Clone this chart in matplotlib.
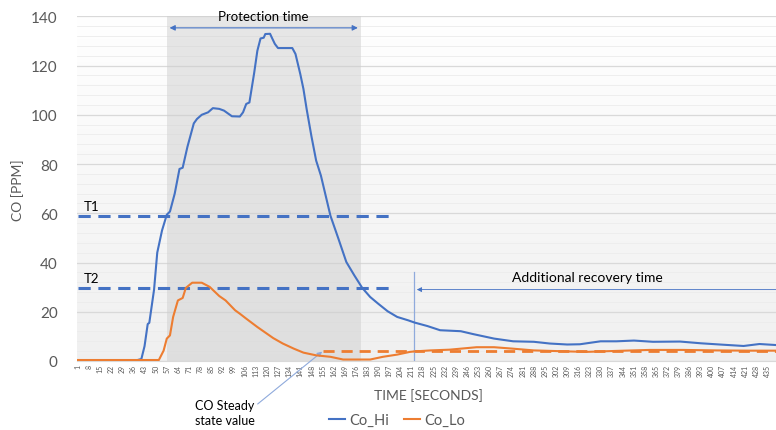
import numpy as np
import matplotlib.pyplot as plt

# CO readings (seconds, ppm)
hi_t = [1, 38, 41, 43, 45, 46, 49, 51, 54, 57, 59, 62, 65, 67, 70, 74, 76, 79, 83, 86,
        90, 93, 98, 103, 105, 107, 109, 112, 114, 116, 118, 119, 122, 123, 125, 127, 136, 138, 141, 143,
        145, 148, 151, 154, 160, 165, 170, 175, 180, 185, 190, 196, 202, 209, 213, 221, 229, 242, 250, 263,
        275, 288, 298, 309, 317, 330, 340, 351, 363, 380, 393, 405, 420, 430, 440]
hi_v = [0.3, 0.3, 0.8, 6, 15, 15.5, 29, 44, 53, 59.4, 60.7, 68, 78, 78.5, 87, 96.5, 98.3, 100, 101, 102.7,
        102.4, 101.7, 99.4, 99.3, 101, 104.4, 105, 117, 126, 131, 131.3, 132.8, 132.9, 131.5, 128.8, 127.1, 127.1, 124.7, 116.6, 110.5,
        102.4, 91.4, 81.4, 75.3, 59, 49.7, 40.2, 34.8, 29.7, 26, 23.3, 20.2, 17.9, 16.5, 15.6, 14.2, 12.5, 12.1, 10.9, 9.1,
        8, 7.8, 7.1, 6.7, 6.8, 8, 8, 8.3, 7.8, 7.9, 7.2, 6.7, 6.1, 6.9, 6.5]

lo_t = [1, 52, 55, 57, 59, 61, 64, 67, 69, 73, 79, 84, 90, 94, 97, 100, 103, 107, 114, 118,
        124, 130, 137, 143, 151, 160, 168, 185, 193, 202, 210, 213, 223, 235, 252, 263, 275, 288, 309, 321,
        340, 361, 382, 403, 424, 440]
lo_v = [0.4, 0.4, 4.2, 9.1, 10.4, 17.9, 24.6, 25.6, 29.7, 31.8, 31.8, 30.1, 26.4, 24.6, 22.6, 20.6, 19.2, 17.2, 13.8, 12,
        9.3, 7.1, 5, 3.4, 2.3, 1.7, 0.6, 0.6, 1.7, 2.6, 3.7, 3.9, 4.3, 4.6, 5.6, 5.6, 5, 4.3, 3.9, 3.7,
        4.1, 4.5, 4.5, 4.3, 4.2, 4.2]

x_ticks = list(range(1, 436, 7))
y_ticks = [0, 20, 40, 60, 80, 100, 120, 140]

t1, t2 = 59, 29.5
steady = 4.2
protect = (57, 179)
recovery_start = 212.6

blue = '#4472C4'
orange = '#ED7D31'
grey = '#595959'

plt.rcParams['font.family'] = ['Lato', 'DejaVu Sans']

fig = plt.figure(figsize=(7.76, 4.31), dpi=100)
ax = fig.add_axes([77/776, 1 - 362/431, 1 - 77/776, (362 - 17.3)/431])
x0, x1 = 0.5, 440.4
ax.set_xlim(x0, x1)
ax.set_ylim(0, 140)

# background gradient, white at the top to light grey at the bottom
shade = np.linspace(1.0, 0.94, 256)
grad = np.dstack([shade, shade, shade]).reshape(256, 1, 3)
ax.imshow(grad, extent=[x0, x1, 0, 140], aspect='auto', origin='upper', zorder=0)

ax.axvspan(protect[0], protect[1], color='#cfcfcf', alpha=0.5, lw=0, zorder=1)

ax.set_yticks(y_ticks)
ax.set_yticks(np.arange(0, 141, 4), minor=True)
ax.grid(axis='y', which='major', color='#d9d9d9', lw=0.9, zorder=1)
ax.grid(axis='y', which='minor', color='#ececec', lw=0.6, zorder=1)
ax.set_axisbelow(True)
ax.set_xticks(x_ticks)
ax.set_xticklabels([str(v) for v in x_ticks], rotation=90, fontsize=5, color=grey)
ax.tick_params(axis='x', length=0, pad=2)
ax.tick_params(axis='y', which='both', length=0, labelsize=11, labelcolor=grey, pad=14)
for s in ['top', 'right', 'left']:
    ax.spines[s].set_visible(False)
ax.spines['bottom'].set_color('#d9d9d9')

ax.plot(hi_t, hi_v, color=blue, lw=1.5, zorder=4, label='Co_Hi')
ax.plot(lo_t, lo_v, color=orange, lw=1.5, zorder=4, label='Co_Lo')

# thresholds
ax.plot([1, 196.6], [t1, t1], color=blue, lw=2.2, ls=(0, (4, 2.5)), zorder=3)
ax.plot([1, 196.6], [t2, t2], color=blue, lw=2.2, ls=(0, (4, 2.5)), zorder=3)
ax.text(5, t1 + 2.5, 'T1', fontsize=9.5, color='black')
ax.text(5, t2 + 2.5, 'T2', fontsize=9.5, color='black')
ax.plot([155.6, x1], [steady, steady], color=orange, lw=2, ls=(0, (4, 2.5)), zorder=3)

# protection time arrow
ax.annotate('', xy=(protect[0], 135.3), xytext=(protect[1], 135.3),
            arrowprops=dict(arrowstyle='<|-|>', color=blue, lw=0.8, mutation_scale=8), zorder=5)
ax.text((protect[0] + protect[1]) / 2, 140, 'Protection time', ha='center', va='center', fontsize=9.5)

# additional recovery time
ax.plot([recovery_start, recovery_start], [0, 36], color='#8faadc', lw=0.9, zorder=3)
ax.annotate('', xy=(recovery_start, 29), xytext=(x1 + 5, 29),
            arrowprops=dict(arrowstyle='-|>', color=blue, lw=0.6, mutation_scale=7), zorder=5)
ax.text(322, 34, 'Additional recovery time', ha='center', va='center', fontsize=10)

# steady-state callout
ax.annotate('CO Steady\nstate value', xy=(154.8, 3.8), xycoords='data',
            xytext=(195/776, 1 - 414/431), textcoords='figure fraction',
            ha='left', va='center', fontsize=9, linespacing=1.3,
            arrowprops=dict(arrowstyle='-|>', color='#8faadc', lw=0.8, mutation_scale=7,
                            shrinkA=0, shrinkB=0, relpos=(1, 0.75)))

fig.text(18/776, 1 - 190/431, 'CO [PPM]', rotation=90, ha='center', va='center', fontsize=10, color=grey)
fig.text(428/776, 1 - 396/431, 'TIME [SECONDS]', ha='center', va='center', fontsize=10, color=grey)

fig.legend(loc='center', bbox_to_anchor=(397/776, 1 - 421/431), ncol=2, frameon=False,
           fontsize=10.5, handlelength=1.1, handletextpad=0.3, columnspacing=1.0, labelcolor=grey)

fig.savefig('out.png', dpi=100)
